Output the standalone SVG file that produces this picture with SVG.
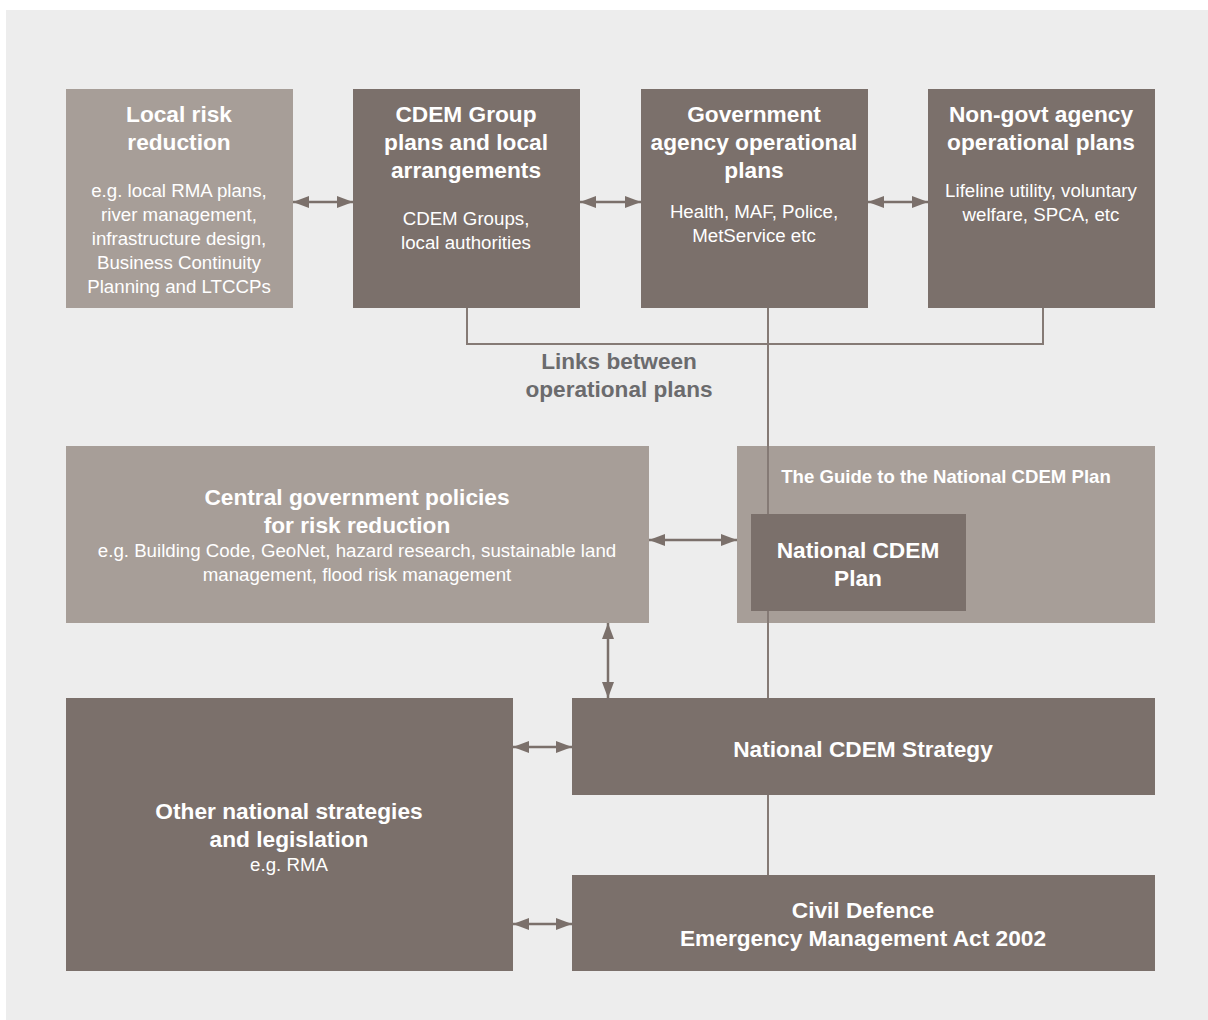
<svg xmlns="http://www.w3.org/2000/svg" width="1208" height="1020" viewBox="0 0 1208 1020">
<defs>
<style>
.light{fill:#a79e98}
.dark{fill:#7b706b}
text{font-family:"Liberation Sans",Arial,sans-serif;fill:#ffffff;text-anchor:middle}
.t{font-size:22.7px;font-weight:bold}
.b{font-size:18.7px}
.g{font-size:18.6px;font-weight:bold}
.lk{font-size:22.6px;font-weight:bold;fill:#6b6b6d}
.arr{stroke:#7b706b;stroke-width:2.5;fill:none;marker-start:url(#ah);marker-end:url(#ah)}
.ln{stroke:#857a75;stroke-width:2;fill:none}
</style>
<marker id="ah" markerUnits="userSpaceOnUse" markerWidth="16" markerHeight="12" refX="16" refY="6" orient="auto-start-reverse">
<path d="M0,0 L16,6 L0,12 z" fill="#7b706b"/>
</marker>
</defs>
<rect x="6" y="10" width="1202" height="1010" fill="#ededed"/>

<g id="local-risk">
<rect class="light" x="66" y="89" width="227" height="219"/>
<text class="t" x="179" y="122">Local risk</text>
<text class="t" x="179" y="150">reduction</text>
<text class="b" x="179" y="197">e.g. local RMA plans,</text>
<text class="b" x="179" y="221">river management,</text>
<text class="b" x="179" y="245">infrastructure design,</text>
<text class="b" x="179" y="269">Business Continuity</text>
<text class="b" x="179" y="293">Planning and LTCCPs</text>
</g>

<g id="cdem-group">
<rect class="dark" x="353" y="89" width="227" height="219"/>
<text class="t" x="466" y="122">CDEM Group</text>
<text class="t" x="466" y="150">plans and local</text>
<text class="t" x="466" y="178">arrangements</text>
<text class="b" x="466" y="225">CDEM Groups,</text>
<text class="b" x="466" y="249">local authorities</text>
</g>

<g id="gov-agency">
<rect class="dark" x="641" y="89" width="227" height="219"/>
<text class="t" x="754" y="122">Government</text>
<text class="t" x="754" y="150">agency operational</text>
<text class="t" x="754" y="178">plans</text>
<text class="b" x="754" y="218">Health, MAF, Police,</text>
<text class="b" x="754" y="242">MetService etc</text>
</g>

<g id="non-govt">
<rect class="dark" x="928" y="89" width="227" height="219"/>
<text class="t" x="1041" y="122">Non-govt agency</text>
<text class="t" x="1041" y="150">operational plans</text>
<text class="b" x="1041" y="197">Lifeline utility, voluntary</text>
<text class="b" x="1041" y="221">welfare, SPCA, etc</text>
</g>

<g id="central-gov">
<rect class="light" x="66" y="446" width="583" height="177"/>
<text class="t" x="357" y="505">Central government policies</text>
<text class="t" x="357" y="533">for risk reduction</text>
<text class="b" x="357" y="557">e.g. Building Code, GeoNet, hazard research, sustainable land</text>
<text class="b" x="357" y="581">management, flood risk management</text>
</g>

<g id="guide">
<rect class="light" x="737" y="446" width="418" height="177"/>
<text class="g" x="946" y="483">The Guide to the National CDEM Plan</text>
</g>

<g id="other-national">
<rect class="dark" x="66" y="698" width="447" height="273"/>
<text class="t" x="289" y="819">Other national strategies</text>
<text class="t" x="289" y="847">and legislation</text>
<text class="b" x="289" y="871">e.g. RMA</text>
</g>

<g id="strategy">
<rect class="dark" x="572" y="698" width="583" height="97"/>
<text class="t" x="863" y="757">National CDEM Strategy</text>
</g>

<g id="act">
<rect class="dark" x="572" y="875" width="583" height="96"/>
<text class="t" x="863" y="918">Civil Defence</text>
<text class="t" x="863" y="946">Emergency Management Act 2002</text>
</g>

<g id="connectors">
<line class="arr" x1="293" y1="202" x2="353" y2="202"/>
<line class="arr" x1="580" y1="202" x2="641" y2="202"/>
<line class="arr" x1="868" y1="202" x2="928" y2="202"/>
<polyline class="ln" points="467,308 467,344 1043,344 1043,308"/>
<line class="ln" x1="768" y1="308" x2="768" y2="698"/>
<line class="ln" x1="768" y1="795" x2="768" y2="875"/>
<line class="arr" x1="649" y1="540" x2="737" y2="540"/>
<line class="arr" x1="608" y1="623" x2="608" y2="698"/>
<line class="arr" x1="513" y1="747" x2="572" y2="747"/>
<line class="arr" x1="513" y1="924" x2="572" y2="924"/>
<text class="lk" x="619" y="369">Links between</text>
<text class="lk" x="619" y="397">operational plans</text>
</g>

<g id="national-plan">
<rect class="dark" x="751" y="514" width="215" height="97"/>
<text class="t" x="858" y="558">National CDEM</text>
<text class="t" x="858" y="586">Plan</text>
</g>
</svg>
